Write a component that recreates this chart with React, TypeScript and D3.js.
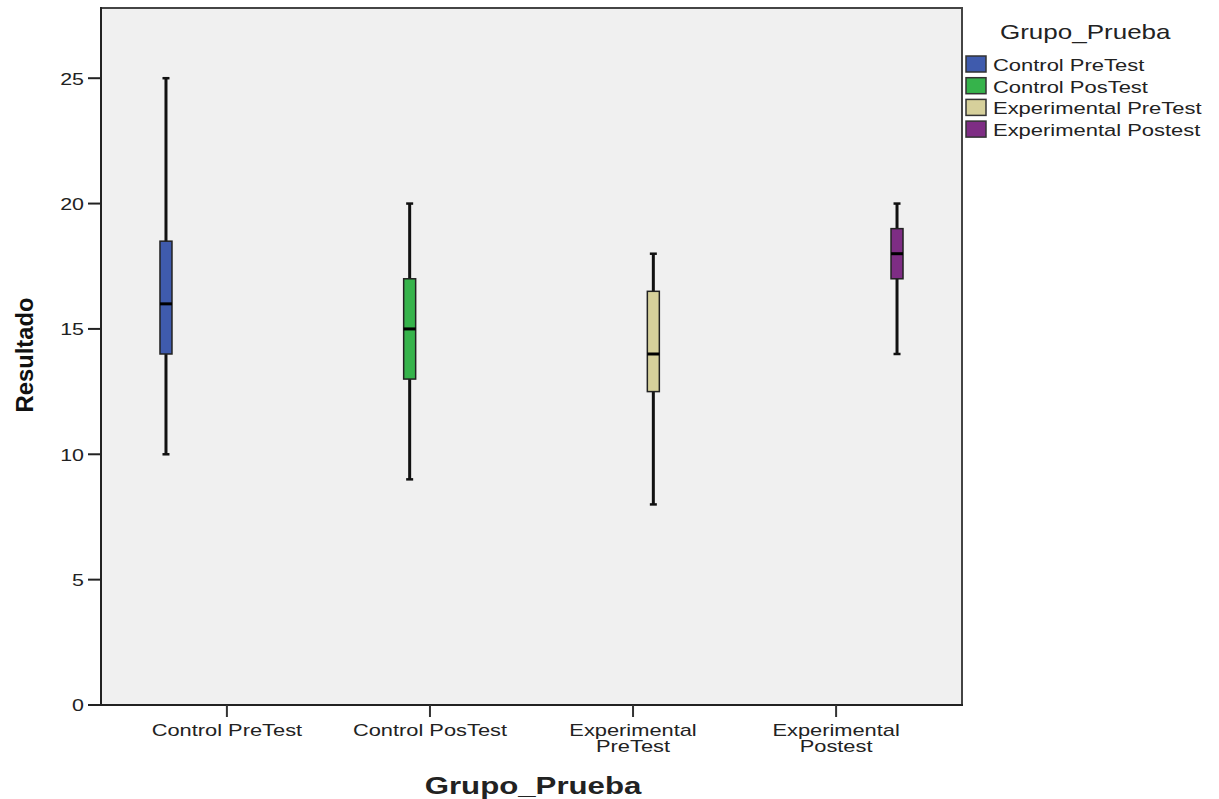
import React from 'react'
import * as d3 from 'd3'

// categories and groups (SPSS clustered boxplot, one group per category)
const categories = ['Control PreTest', 'Control PosTest', 'Experimental PreTest', 'Experimental Postest']
const tickLabels = [['Control PreTest'], ['Control PosTest'], ['Experimental', 'PreTest'], ['Experimental', 'Postest']]
const groups = ['Control PreTest', 'Control PosTest', 'Experimental PreTest', 'Experimental Postest']
const groupColors = ['#3f5bad', '#36b34b', '#d6d09b', '#7e2d84']

// five-number summaries
const whiskerLow = [10, 9, 8, 14]
const q1 = [14, 13, 12.5, 17]
const median = [16, 15, 14, 18]
const q3 = [18.5, 17, 16.5, 19]
const whiskerHigh = [25, 20, 18, 20]

const yTicks = [0, 5, 10, 15, 20, 25]

const W = 1219
const H = 799
const margin = { left: 101, right: 257, top: 8, bottom: 94 }
const SX = 1.3 // horizontal stretch of the original's lettering
const FONT = '"Liberation Sans", Arial, sans-serif'

function Label(props: any) {
    const { x, y, anchor = 'start', size = 17, weight = 'normal', children, baseline } = props
    return (
        <g transform={`translate(${x},${y}) scale(${SX},1)`}>
            <text textAnchor={anchor} fontSize={size} fontWeight={weight} fontFamily={FONT}
                fill="#222" dominantBaseline={baseline}>{children}</text>
        </g>
    )
}

export default function App() {
    const x0 = margin.left
    const x1 = W - margin.right
    const yTop = margin.top
    const yBot = H - margin.bottom

    const y = d3.scaleLinear().domain([0, 27.8]).range([yBot, yTop])
    const x = d3.scalePoint<string>().domain(categories).range([x0, x1]).padding(0.62)
    const step = x.step()
    const cluster = d3.scaleBand<string>().domain(groups).range([-step * 0.4, step * 0.4])
    const boxW = 12
    const capW = 7

    return (
        <svg width={W} height={H} style={{ position: 'absolute', left: 0, top: 0, background: '#fff' }}>
            <rect x={x0} y={yTop} width={x1 - x0} height={yBot - yTop} fill="#f0f0f0" />
            {/* frame top/right */}
            <path d={`M${x0},${yTop}H${x1}V${yBot}`} fill="none" stroke="#444" strokeWidth={2} />

            {/* boxes */}
            {categories.map((c, i) => {
                const cx = (x(c) as number) + (cluster(groups[i]) as number) + cluster.bandwidth() / 2
                return (
                    <g key={c}>
                        <line x1={cx} x2={cx} y1={y(whiskerHigh[i])} y2={y(whiskerLow[i])} stroke="#111" strokeWidth={3} />
                        <line x1={cx - capW / 2} x2={cx + capW / 2} y1={y(whiskerHigh[i])} y2={y(whiskerHigh[i])} stroke="#111" strokeWidth={2.5} />
                        <line x1={cx - capW / 2} x2={cx + capW / 2} y1={y(whiskerLow[i])} y2={y(whiskerLow[i])} stroke="#111" strokeWidth={2.5} />
                        <rect x={cx - boxW / 2} y={y(q3[i])} width={boxW} height={y(q1[i]) - y(q3[i])}
                            fill={groupColors[i]} stroke="#222" strokeWidth={1.5} />
                        <line x1={cx - boxW / 2} x2={cx + boxW / 2} y1={y(median[i])} y2={y(median[i])} stroke="#000" strokeWidth={3} />
                    </g>
                )
            })}

            {/* y axis */}
            <line x1={x0} x2={x0} y1={yTop - 1} y2={yBot} stroke="#222" strokeWidth={2} />
            {yTicks.map(t => (
                <g key={t}>
                    <line x1={x0 - 13} x2={x0} y1={y(t)} y2={y(t)} stroke="#222" strokeWidth={2} />
                    <Label x={x0 - 17} y={y(t) + 2} anchor="end" size={16.5} baseline="middle">{t}</Label>
                </g>
            ))}

            {/* x axis */}
            <line x1={x0 - 13} x2={x1 + 1} y1={yBot} y2={yBot} stroke="#222" strokeWidth={2} />
            {categories.map((c, i) => (
                <g key={c}>
                    <line x1={x(c)} x2={x(c)} y1={yBot} y2={yBot + 12} stroke="#333" strokeWidth={2} />
                    {tickLabels[i].map((l, j) => (
                        <Label key={l} x={x(c)} y={yBot + 31 + j * 16} anchor="middle" size={16.8}>{l}</Label>
                    ))}
                </g>
            ))}

            {/* axis titles */}
            <Label x={533} y={794} anchor="middle" size={24} weight="bold">Grupo_Prueba</Label>
            <text transform={`translate(33,355) rotate(-90)`} textAnchor="middle" fontSize={23} fontWeight="bold"
                fontFamily={FONT} fill="#111" textLength={115} lengthAdjust="spacingAndGlyphs">Resultado</text>

            {/* legend */}
            <Label x={1000} y={39} size={20}>Grupo_Prueba</Label>
            {groups.map((g, i) => (
                <g key={g}>
                    <rect x={966} y={56 + i * 21.7} width={20} height={16} fill={groupColors[i]} stroke="#333" strokeWidth={1.5} />
                    <Label x={993} y={71 + i * 21.7} size={16.9}>{g}</Label>
                </g>
            ))}
        </svg>
    )
}
